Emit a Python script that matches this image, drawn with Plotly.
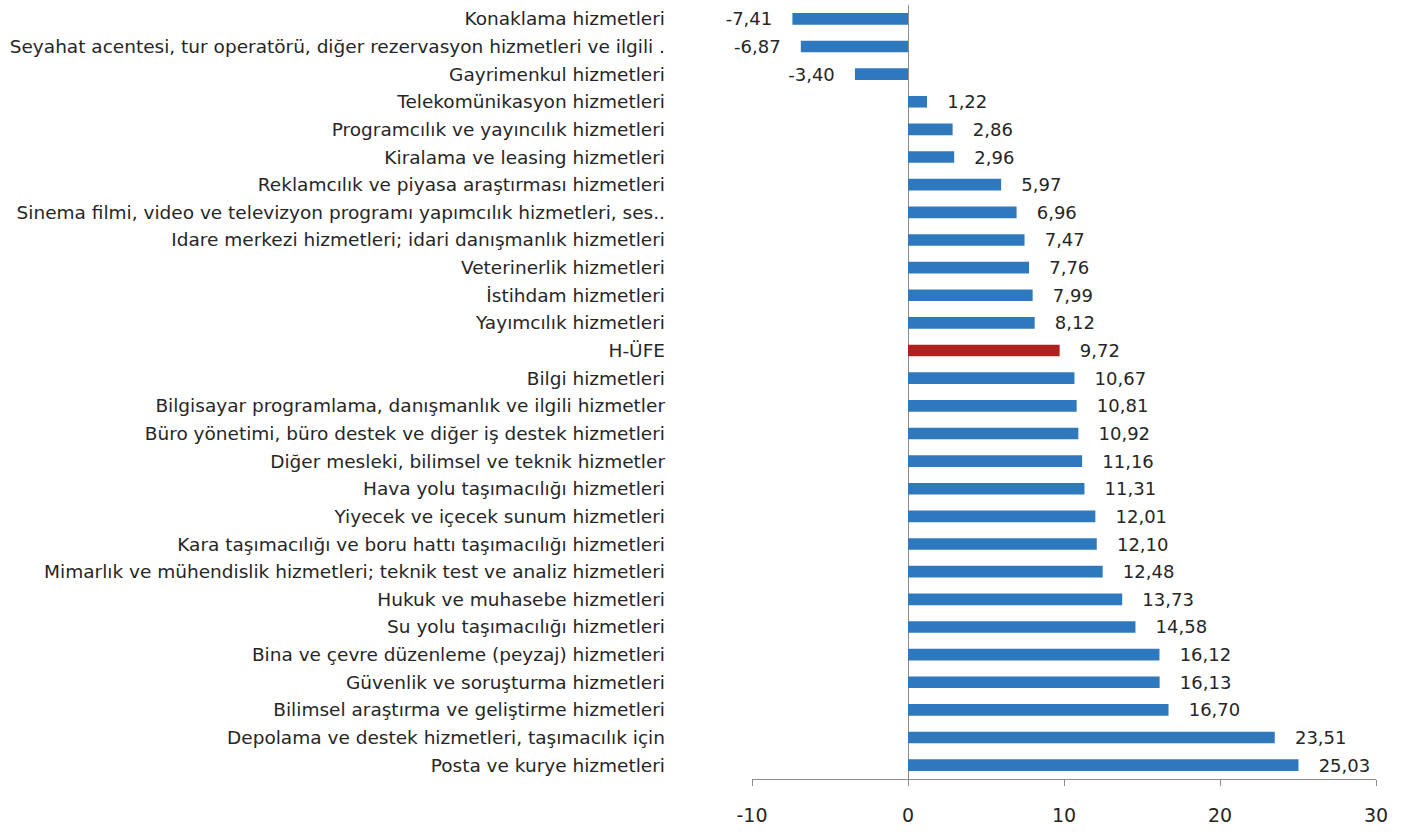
import plotly.graph_objects as go

categories = [
    "Konaklama hizmetleri",
    "Seyahat acentesi, tur operatörü, diğer rezervasyon hizmetleri ve ilgili .",
    "Gayrimenkul hizmetleri",
    "Telekomünikasyon hizmetleri",
    "Programcılık ve yayıncılık hizmetleri",
    "Kiralama ve leasing hizmetleri",
    "Reklamcılık ve piyasa araştırması hizmetleri",
    "Sinema filmi, video ve televizyon programı yapımcılık hizmetleri, ses..",
    "Idare merkezi hizmetleri; idari danışmanlık hizmetleri",
    "Veterinerlik hizmetleri",
    "İstihdam hizmetleri",
    "Yayımcılık hizmetleri",
    "H-ÜFE",
    "Bilgi hizmetleri",
    "Bilgisayar programlama, danışmanlık ve ilgili hizmetler",
    "Büro yönetimi, büro destek ve diğer iş destek hizmetleri",
    "Diğer mesleki, bilimsel ve teknik hizmetler",
    "Hava yolu taşımacılığı hizmetleri",
    "Yiyecek ve içecek sunum hizmetleri",
    "Kara taşımacılığı ve boru hattı taşımacılığı hizmetleri",
    "Mimarlık ve mühendislik hizmetleri; teknik test ve analiz hizmetleri",
    "Hukuk ve muhasebe hizmetleri",
    "Su yolu taşımacılığı hizmetleri",
    "Bina ve çevre düzenleme (peyzaj) hizmetleri",
    "Güvenlik ve soruşturma hizmetleri",
    "Bilimsel araştırma ve geliştirme hizmetleri",
    "Depolama ve destek hizmetleri, taşımacılık için",
    "Posta ve kurye hizmetleri",
]
values = [-7.41, -6.87, -3.40, 1.22, 2.86, 2.96, 5.97, 6.96, 7.47, 7.76, 7.99, 8.12,
          9.72, 10.67, 10.81, 10.92, 11.16, 11.31, 12.01, 12.10, 12.48, 13.73, 14.58,
          16.12, 16.13, 16.70, 23.51, 25.03]
highlight = "H-ÜFE"
x_ticks = [-10, 0, 10, 20, 30]

BLUE = "#2E78BE"
RED = "#B0201F"
FONT = "DejaVu Sans, Liberation Sans, Arial"

colors = [RED if c == highlight else BLUE for c in categories]
templates = ["%{x:.2f}   " if v < 0 else "   %{x:.2f}" for v in values]

fig = go.Figure(go.Bar(
    x=values, y=categories, orientation="h",
    marker=dict(color=colors, line=dict(width=0)),
    width=0.42,
    texttemplate=templates, textposition="outside",
    textfont=dict(family=FONT, size=18, color="#262626"),
    constraintext="none", cliponaxis=False,
    hoverinfo="skip",
))

fig.update_layout(
    width=1405, height=832,
    margin=dict(l=752, r=29, t=5, b=53),
    paper_bgcolor="white", plot_bgcolor="white",
    separators=",.",
    showlegend=False,
    font=dict(family=FONT, color="#262626"),
)
fig.update_xaxes(
    range=[-10, 30], tickvals=x_ticks, ticktext=[str(t) for t in x_ticks],
    showgrid=False, zeroline=True, zerolinecolor="#8C8C8C", zerolinewidth=1,
    showline=True, linecolor="#8C8C8C", linewidth=1,
    ticks="outside", ticklen=6, tickcolor="#8C8C8C",
    tickfont=dict(size=19, color="#262626"),
    ticklabelstandoff=13,
)
fig.update_yaxes(
    autorange="reversed", showgrid=False, showline=False, ticks="",
    tickfont=dict(size=18.5, color="#262626"),
    ticklabelstandoff=86,
)

fig.write_html("out.html", config={"displayModeBar": False},
               post_script="document.body.style.margin='0';")
